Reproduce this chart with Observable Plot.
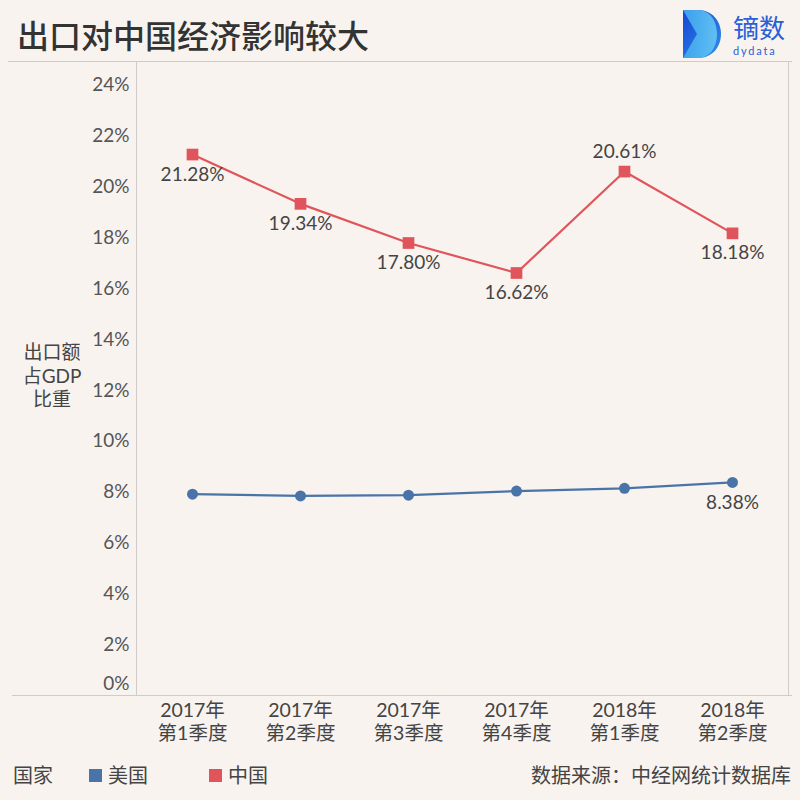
<!DOCTYPE html>
<html><head><meta charset="utf-8">
<script src="https://cdn.jsdelivr.net/npm/d3@7"></script>
<script src="https://cdn.jsdelivr.net/npm/@observablehq/plot@0.6"></script>
<style>
body{margin:0;background:#f8f3ef;}
#wrap{position:relative;width:800px;height:800px;background:#f8f3ef;overflow:hidden;font-family:Lato,"Noto Sans CJK SC",sans-serif;color:#444;}
#chart{position:absolute;left:0;top:0;}
.title{position:absolute;left:17px;top:14px;font-size:32px;font-weight:500;color:#333;font-family:"Noto Sans CJK SC",sans-serif;line-height:40px;}
.hline{position:absolute;height:1px;background:#cfcbc8;}
.ylab{position:absolute;left:12px;top:340px;width:80px;text-align:center;font-size:19px;line-height:23.5px;color:#444;}
.legend{position:absolute;top:762px;font-size:20px;line-height:26px;color:#444;}
.sw{position:absolute;top:769px;width:13px;height:13px;}
.src{position:absolute;right:9px;top:762px;font-size:20px;line-height:26px;color:#444;}
</style></head><body>
<div id="wrap">
  <div id="chart"></div>
  <div class="title">出口对中国经济影响较大</div>
  <div class="hline" style="left:8px;width:784px;top:61px;"></div>
  <div class="hline" style="left:12px;width:780px;top:695px;"></div>
  <svg style="position:absolute;left:680px;top:8px" width="118" height="54" viewBox="0 0 118 54">
    <defs>
      <linearGradient id="lg" x1="0" y1="0" x2="1" y2="1">
        <stop offset="0" stop-color="#1746d4"/><stop offset="1" stop-color="#2f8fe8"/>
      </linearGradient>
      <linearGradient id="lg2" x1="0" y1="0" x2="1" y2="0">
        <stop offset="0" stop-color="#3fa9ee"/><stop offset="1" stop-color="#66c6f5"/>
      </linearGradient>
    </defs>
    <path d="M3,2 L18,2 C32,2 41,13 41,26 C41,39 32,50 18,50 L3,50 Z" fill="url(#lg)"/>
    <path d="M3,2 L18,2 C30,2 37,13 37,26 C37,39 30,50 18,50 L3,50 L17,26 Z" fill="url(#lg2)" opacity="0.9"/>
    <text x="53" y="30" font-size="26" fill="#2a5fd8" font-family="Noto Sans CJK SC">镝数</text>
    <text x="53" y="47" font-size="11" fill="#2a5fd8" font-family="Lato" letter-spacing="1.8">dydata</text>
  </svg>
  <div class="ylab">出口额<br>占GDP<br>比重</div>
  <div class="legend" style="left:13px;">国家</div>
  <div class="sw" id="sw0" style="left:89px;"></div>
  <div class="legend" id="lg0" style="left:108px;"></div>
  <div class="sw" id="sw1" style="left:209px;"></div>
  <div class="legend" id="lg1" style="left:228px;"></div>
  <div class="src">数据来源：中经网统计数据库</div>
</div>
<script>
const quarters = ["2017年\n第1季度", "2017年\n第2季度", "2017年\n第3季度", "2017年\n第4季度", "2018年\n第1季度", "2018年\n第2季度"];
const countries = ["美国", "中国"];
const usValues = [7.92, 7.85, 7.88, 8.04, 8.15, 8.38];
const chinaValues = [21.28, 19.34, 17.80, 16.62, 20.61, 18.18];
const yTicks = [2, 4, 6, 8, 10, 12, 14, 16, 18, 20, 22, 24];
const colors = ["#4a74a8", "#e0555b"];

const us = quarters.map((q, i) => ({q, v: usValues[i], i}));
const cn = quarters.map((q, i) => ({q, v: chinaValues[i], i}));
const fmt = d => d.toFixed(2) + "%";
// label above the point where the series rises into a peak
const isPeakAfterRise = (d, arr) => d.i > 0 && d.i < arr.length - 1 && arr[d.i - 1].v < d.v && d.v > arr[d.i + 1].v;
const cnAbove = cn.filter(d => isPeakAfterRise(d, cn));
const cnBelow = cn.filter(d => !isPeakAfterRise(d, cn));

document.getElementById("sw0").style.background = colors[0];
document.getElementById("sw1").style.background = colors[1];
document.getElementById("lg0").textContent = countries[0];
document.getElementById("lg1").textContent = countries[1];

const font = "Lato, 'Noto Sans CJK SC', sans-serif";
const chart = Plot.plot({
  width: 800, height: 800,
  marginLeft: 136, marginRight: 12, marginTop: 61, marginBottom: 105,
  style: {background: "transparent", fontFamily: font, fontSize: "19px", color: "#555", overflow: "visible"},
  x: {type: "point", domain: quarters, padding: 0.5, label: null},
  y: {domain: [0, 24.94], label: null},
  marks: [
    Plot.frame({anchor: "left", stroke: "#cfcbc8", strokeOpacity: 1}),
    Plot.frame({anchor: "right", stroke: "#cfcbc8", strokeOpacity: 1}),
    Plot.axisY(yTicks, {tickSize: 0, tickPadding: 7, tickFormat: d => d + "%", fontSize: 19, label: null}),
    Plot.axisY([0], {tickSize: 0, tickPadding: 7, tickFormat: d => d + "%", fontSize: 19, dy: -12, label: null}),
    Plot.axisX({tickSize: 0, tickPadding: 6, fontSize: 19.5, lineHeight: 1.15, label: null, color: "#444"}),
    Plot.line(us, {x: "q", y: "v", stroke: colors[0], strokeWidth: 2.2}),
    Plot.dot(us, {x: "q", y: "v", r: 5.5, fill: colors[0], symbol: "circle"}),
    Plot.line(cn, {x: "q", y: "v", stroke: colors[1], strokeWidth: 2.2}),
    Plot.dot(cn, {x: "q", y: "v", r: 6.6, fill: colors[1], symbol: "square"}),
    Plot.text(cnBelow, {x: "q", y: "v", text: d => fmt(d.v), dy: 20, fontSize: 19, fill: "#444"}),
    Plot.text(cnAbove, {x: "q", y: "v", text: d => fmt(d.v), dy: -20, fontSize: 19, fill: "#444"}),
    Plot.text(us.slice(-1), {x: "q", y: "v", text: d => fmt(d.v), dy: 20, fontSize: 19, fill: "#444"})
  ]
});
document.getElementById("chart").appendChild(chart);
</script>
</body></html>
